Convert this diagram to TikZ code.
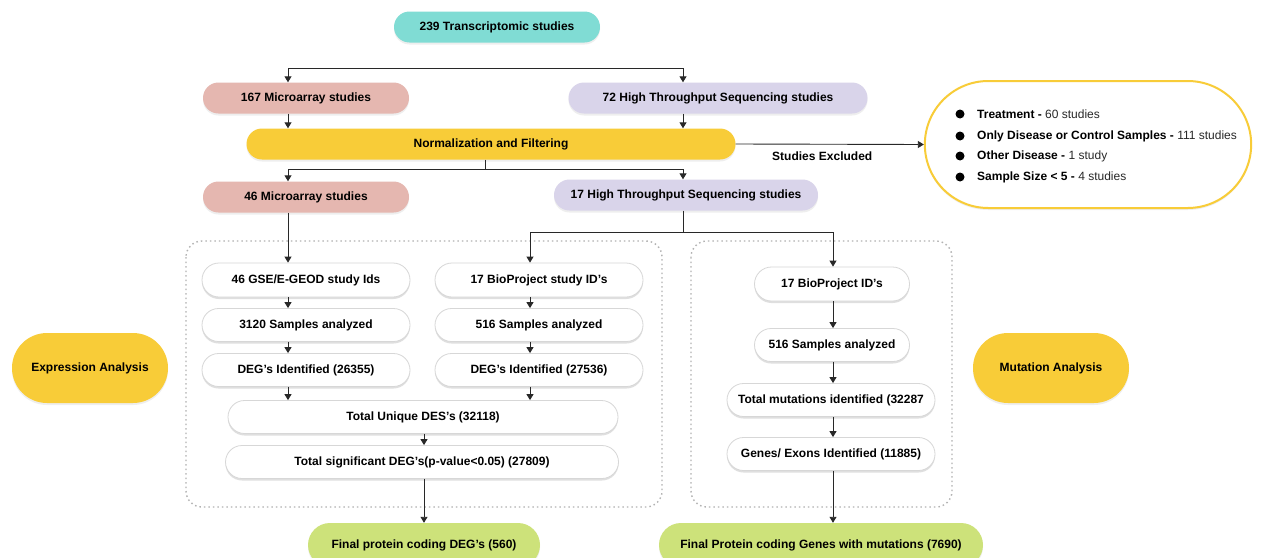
\documentclass[tikz,border=0pt]{standalone}
\usepackage{fontspec}
\setmainfont{Liberation Sans}
\usepackage{xcolor}
\usetikzlibrary{arrows.meta,shapes.misc,shadows}

\definecolor{teal1}{RGB}{128,220,212}
\definecolor{pink1}{RGB}{229,183,176}
\definecolor{lav1}{RGB}{217,212,234}
\definecolor{yel1}{RGB}{248,204,56}
\definecolor{grn1}{RGB}{205,226,122}
\definecolor{line1}{RGB}{40,40,40}
\definecolor{edge1}{RGB}{215,215,215}

\begin{document}
\begin{tikzpicture}[x=1pt,y=-1pt,
  font=\fontsize{12}{14}\selectfont\bfseries,
  pill/.style={rounded rectangle,inner sep=0pt,minimum height=31,
    drop shadow={opacity=0.13,shadow xshift=0pt,shadow yshift=-2pt}},
  wbox/.style={pill,fill=white,draw=edge1,line width=0.8pt,minimum height=33},
  arr/.style={-{Triangle[length=6pt,width=7pt]},line width=0.9pt,draw=line1},
  ln/.style={line width=0.9pt,draw=line1},
  dbox/.style={draw=gray!60,line width=1.4pt,dash pattern=on 1.5pt off 3pt,rounded corners=16pt}]
\newcommand{\pill}[5]{\node[pill,#4,minimum width=#5] (#1) at (#2) {#3};}
\clip (0,0) rectangle (1266,557);
\fill[white] (0,0) rectangle (1266,557);

% dotted frames
\draw[dbox] (186,241) rectangle (662,507);
\draw[dbox] (691,241) rectangle (952,507);

% studies
\pill{top}{497,27}{239 Transcriptomic studies}{fill=teal1}{206}
\pill{mic1}{306,98}{167 Microarray studies}{fill=pink1}{206}
\pill{hts1}{718,98}{72 High Throughput Sequencing studies}{fill=lav1}{299}
\pill{norm}{491,144}{Normalization and Filtering}{fill=yel1}{489}
\pill{mic2}{306,197}{46 Microarray studies}{fill=pink1}{206}
\pill{hts2}{686,195}{17 High Throughput Sequencing studies}{fill=lav1}{264}

% excluded
\node[rounded rectangle,draw=yel1,line width=2pt,fill=white,minimum width=333,minimum height=127,
  drop shadow={opacity=0.13,shadow xshift=0pt,shadow yshift=-2pt}] (excl) at (1088,144.5) {};
\foreach \y/\b/\r [count=\i] in {114/Treatment/60 studies,136/Only Disease or Control Samples/111 studies,
    156/Other Disease/1 study,177/Sample Size < 5/4 studies}{
  \fill[black] (960,\y) circle (4.5);
  \node[anchor=west,inner sep=0pt] (ex\i) at (977,\y) {\b{} - {\mdseries\color{line1}\r}};
}

% expression analysis
\pill{gse}{306,280}{46 GSE/E-GEOD study Ids}{wbox,minimum height=34}{208}
\pill{smp1}{306,325}{3120 Samples analyzed}{wbox}{208}
\pill{deg1}{306,370}{DEG's Identified (26355)}{wbox}{208}
\pill{bio1}{539,280}{17 BioProject study ID's}{wbox,minimum height=34}{208}
\pill{smp2}{539,325}{516 Samples analyzed}{wbox}{208}
\pill{deg2}{539,370}{DEG's Identified (27536)}{wbox}{208}
\pill{uniq}{423,417}{Total Unique DES's (32118)}{wbox}{390}
\pill{sig}{422,462}{Total significant DEG's(p-value<0.05) (27809)}{wbox}{393}
\pill{fin1}{424,545}{Final protein coding DEG's (560)}{fill=grn1,minimum height=44}{232}

% mutation analysis
\pill{bio2}{832,284}{17 BioProject ID's}{wbox,minimum height=34}{155}
\pill{smp3}{832,345}{516 Samples analyzed}{wbox}{155}
\pill{mut}{831,400}{Total mutations identified (32287}{wbox}{208}
\pill{gen}{831,454}{Genes/ Exons Identified (11885)}{wbox}{208}
\pill{fin2}{821,545}{Final Protein coding Genes with mutations (7690)}{fill=grn1,minimum height=44}{324}

\pill{expr}{90,368}{Expression Analysis}{fill=yel1,minimum height=70}{156}
\pill{muta}{1051,368}{Mutation Analysis}{fill=yel1,minimum height=70}{156}

% connectors
\coordinate (t1) at (288,68);
\coordinate (t2) at (683,68);
\coordinate (b0) at (485,169);
\coordinate (b1) at (288,169);
\coordinate (b2) at (683,169);
\coordinate (c0) at (683,232);
\coordinate (c1) at (530,232);
\coordinate (c2) at (833,232);
\coordinate (m0) at (424,0);
\draw[ln] (t1) -- (t2);
\draw[arr] (t1) -- (t1 |- mic1.north);
\draw[arr] (t2) -- (t2 |- hts1.north);
\draw[arr] (mic1.south -| t1) -- (norm.north -| t1);
\draw[arr] (hts1.south -| t2) -- (norm.north -| t2);
\draw[arr] (norm.east) -- (excl.west) node[pos=0.46,below=4pt] (exlab) {Studies Excluded};
\draw[ln] (norm.south -| b0) -- (b0);
\draw[arr] (b0) -- (b1) -- (b1 |- mic2.north);
\draw[arr] (b0) -- (b2) -- (b2 |- hts2.north);
\draw[arr] (mic2.south -| t1) -- (gse.north -| t1);
\draw[ln] (hts2.south -| c0) -- (c0);
\draw[arr] (c0) -- (c1) -- (c1 |- bio1.north);
\draw[arr] (c0) -- (c2) -- (c2 |- bio2.north);
\draw[arr] (gse.south -| t1) -- (smp1.north -| t1);
\draw[arr] (smp1.south -| t1) -- (deg1.north -| t1);
\draw[arr] (deg1.south -| t1) -- (uniq.north -| t1);
\draw[arr] (bio1.south -| c1) -- (smp2.north -| c1);
\draw[arr] (smp2.south -| c1) -- (deg2.north -| c1);
\draw[arr] (deg2.south -| c1) -- (uniq.north -| c1);
\draw[arr] (uniq.south -| m0) -- (sig.north -| m0);
\draw[arr] (sig.south -| m0) -- (fin1.north -| m0);
\draw[arr] (bio2.south -| c2) -- (smp3.north -| c2);
\draw[arr] (smp3.south -| c2) -- (mut.north -| c2);
\draw[arr] (mut.south -| c2) -- (gen.north -| c2);
\draw[arr] (gen.south -| c2) -- (fin2.north -| c2);
\end{tikzpicture}
\end{document}
